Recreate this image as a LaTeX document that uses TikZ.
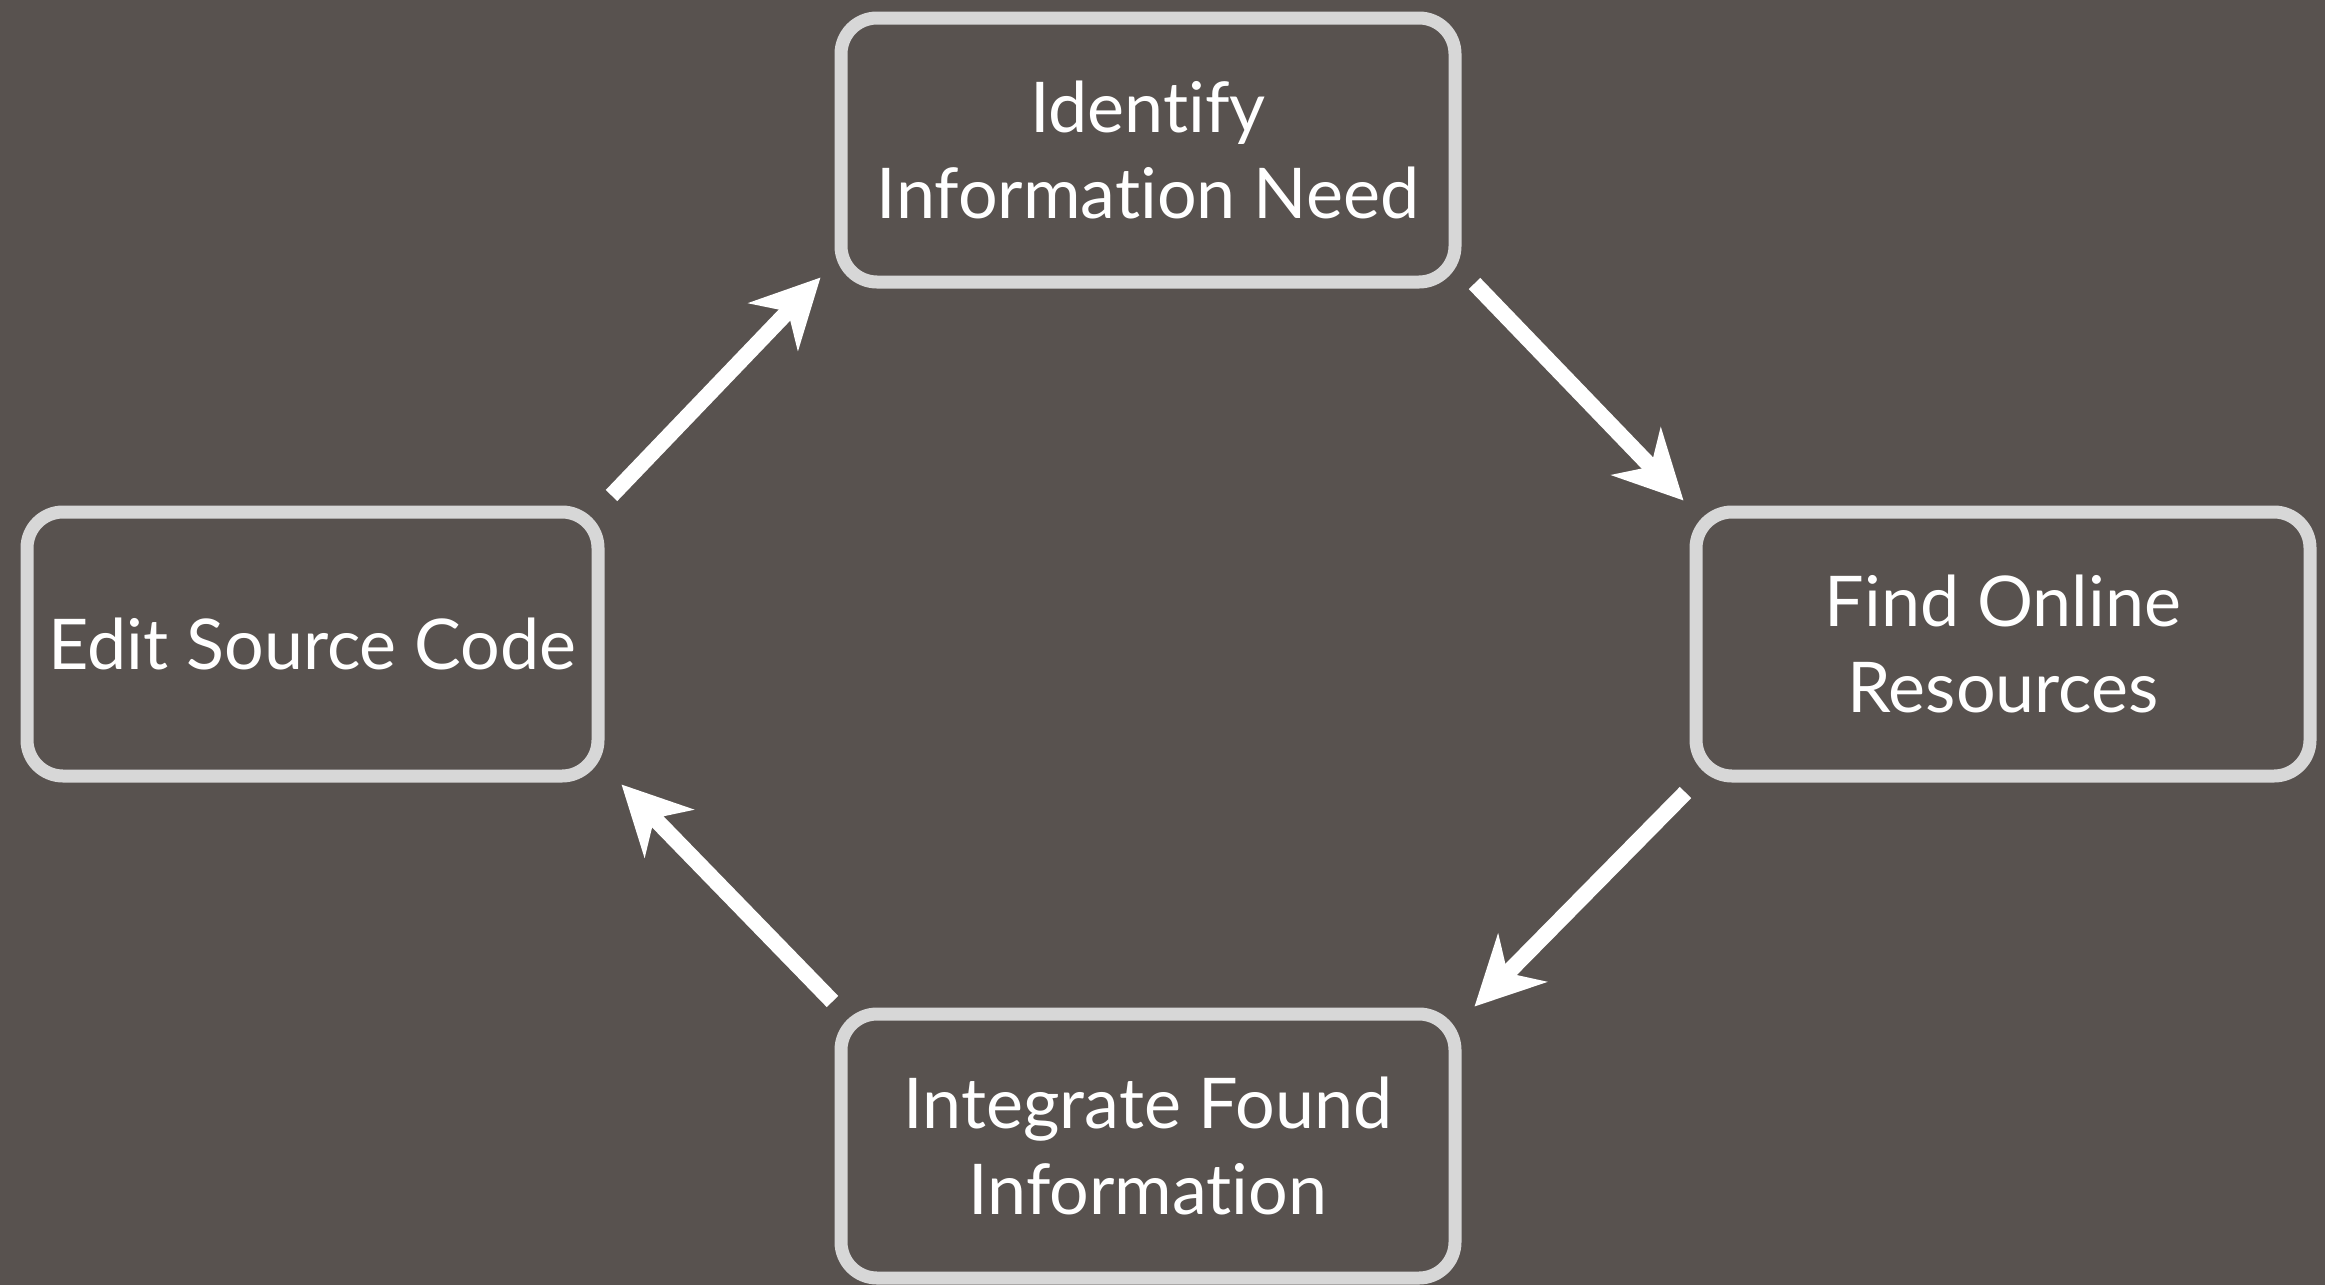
\documentclass[tikz,border=0pt]{standalone}
\usepackage{fontspec}
\setmainfont{Lato}[Ligatures={NoCommon,NoRare}]
\usetikzlibrary{arrows.meta,shadows}
\definecolor{bgc}{HTML}{58524F}
\definecolor{boxline}{HTML}{D7D7D7}
\tikzset{
  stagebox/.style={draw=boxline, line width=13pt, rounded corners=36pt, fill=bgc,
    minimum height=264pt, inner sep=0pt, text=white, align=center,
    font=\fontsize{70}{86}\selectfont,
    drop shadow={shadow xshift=2pt, shadow yshift=-4pt, opacity=0.35, fill=black}},
  flow/.style={draw=white, line width=16pt,
    -{Stealth[length=68pt,width=68pt,inset=21pt]}}
}
\begin{document}
\begin{tikzpicture}[x=1pt,y=-1pt]
\fill[bgc] (0,0) rectangle (2325,1285);
\useasboundingbox (0,0) rectangle (2325,1285);
\node[stagebox, minimum width=614pt] (top) at (1148,150) {Identify\\Information Need};
\node[stagebox, minimum width=614pt] (right) at (2003,644) {Find Online\\Resources};
\node[stagebox, minimum width=614pt] (bottom) at (1148,1146) {Integrate Found\\Information};
\node[stagebox, minimum width=571pt] (left) at (312.5,644) {Edit Source Code};
\draw[flow] ([shift={(7,-10)}]left.north east) -- ([shift={(-14,-11)}]top.south west);
\draw[flow] ([shift={(13,-5)}]top.south east) -- ([shift={(-6,-5)}]right.north west);
\draw[flow] ([shift={(-4,10)}]right.south west) -- ([shift={(13,-1)}]bottom.north east);
\draw[flow] ([shift={(-2,-6)}]bottom.north west) -- ([shift={(17,2)}]left.south east);
\end{tikzpicture}
\end{document}
